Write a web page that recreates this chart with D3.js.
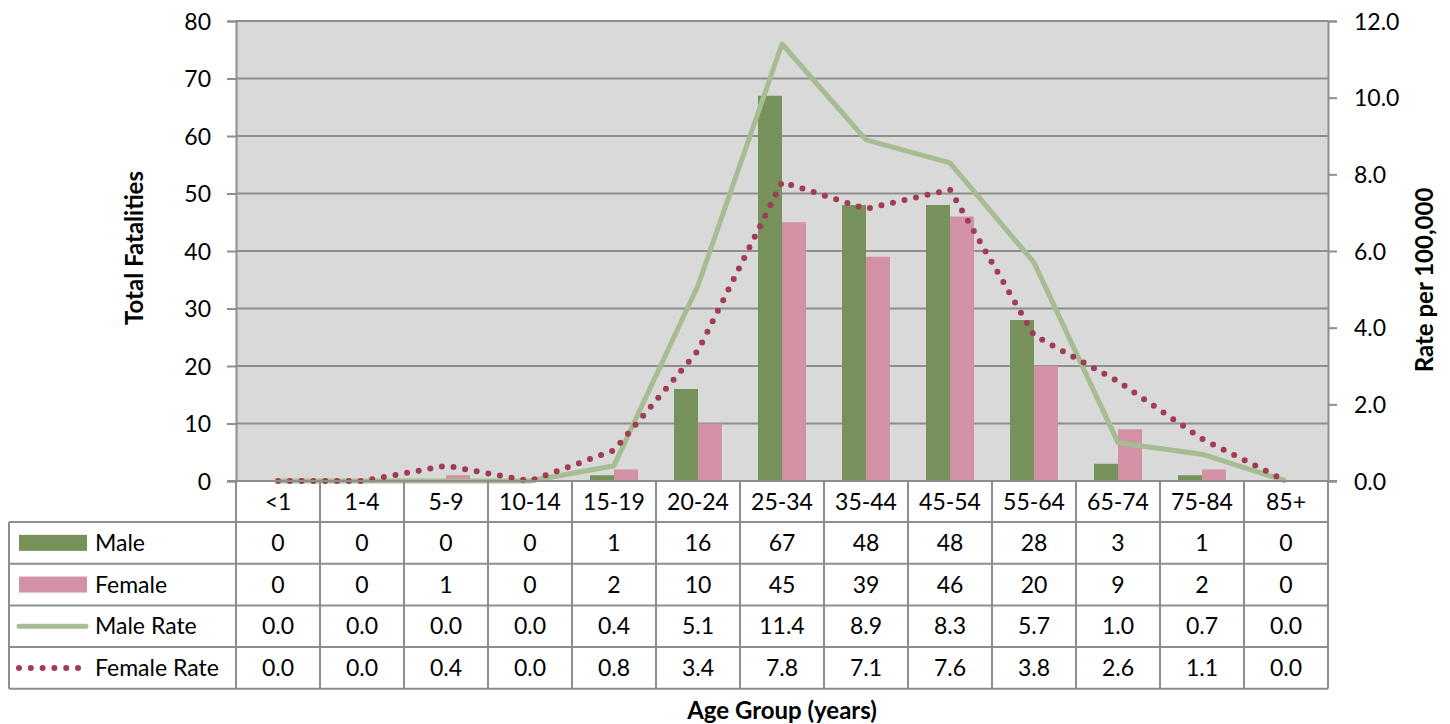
<!DOCTYPE html>
<html lang="en">
<head>
  <meta charset="UTF-8">
  <title>Fatalities by Age Group</title>
  <script src="https://d3js.org/d3.v7.min.js"></script>
  <style>
    body { margin: 0; background: #fff; }
    text { font-family: Lato, "Noto Sans", sans-serif; fill: #000; }
  </style>
</head>
<body>
<svg id="chart" width="1450" height="724"></svg>
<script>
  // data
  const ageGroups = ["<1", "1-4", "5-9", "10-14", "15-19", "20-24", "25-34", "35-44", "45-54", "55-64", "65-74", "75-84", "85+"]
  const male = [0, 0, 0, 0, 1, 16, 67, 48, 48, 28, 3, 1, 0]
  const female = [0, 0, 1, 0, 2, 10, 45, 39, 46, 20, 9, 2, 0]
  const maleRate = [0.0, 0.0, 0.0, 0.0, 0.4, 5.1, 11.4, 8.9, 8.3, 5.7, 1.0, 0.7, 0.0]
  const femaleRate = [0.0, 0.0, 0.4, 0.0, 0.8, 3.4, 7.8, 7.1, 7.6, 3.8, 2.6, 1.1, 0.0]
  const leftTicks = [0, 10, 20, 30, 40, 50, 60, 70, 80]
  const rightTicks = [0, 2, 4, 6, 8, 10, 12]

  const svg = d3.select("#chart")
  const plotL = 236, plotR = 1328, plotT = 21, plotB = 481
  const gridColor = "#8e8e8e"
  const maleColor = "#77915a", femaleColor = "#d291a5"
  const maleRateColor = "#a6bc92", femaleRateColor = "#a13c55"

  let x = d3.scaleBand().domain(ageGroups).range([plotL, plotR])
  let yL = d3.scaleLinear().domain([0, 80]).range([plotB, plotT])
  let yR = d3.scaleLinear().domain([0, 12]).range([plotB, plotT])
  let xSub = d3.scaleBand().domain(["m", "f"]).range([18, x.bandwidth() - 18])

  // plot background
  svg.append("rect").attr("x", plotL).attr("y", plotT)
    .attr("width", plotR - plotL).attr("height", plotB - plotT).attr("fill", "#d9d9d9")

  // gridlines
  svg.append("g").selectAll("line").data(leftTicks).enter().append("line")
    .attr("x1", plotL).attr("x2", plotR)
    .attr("y1", d => yL(d)).attr("y2", d => yL(d))
    .attr("stroke", gridColor).attr("stroke-width", 2)

  // left axis
  let yAxisL = d3.axisLeft(yL).tickValues(leftTicks).tickSize(9).tickPadding(16)
  let gL = svg.append("g").attr("transform", `translate(${plotL},0)`).call(yAxisL)
  gL.select(".domain").attr("stroke", gridColor).attr("stroke-width", 2)
  gL.selectAll(".tick line").attr("stroke", gridColor).attr("stroke-width", 2)
  gL.selectAll("text").style("font-size", "23px").attr("dy", "0.35em")

  // right axis
  let yAxisR = d3.axisRight(yR).tickValues(rightTicks).tickSize(9).tickPadding(17).tickFormat(d3.format(".1f"))
  let gR = svg.append("g").attr("transform", `translate(${plotR},0)`).call(yAxisR)
  gR.select(".domain").attr("stroke", gridColor).attr("stroke-width", 2)
  gR.selectAll(".tick line").attr("stroke", gridColor).attr("stroke-width", 2)
  gR.selectAll("text").style("font-size", "23px").attr("dy", "0.35em")

  // bars
  svg.append("g").selectAll("rect").data(male).enter().append("rect")
    .attr("x", (d, i) => x(ageGroups[i]) + xSub("m"))
    .attr("y", d => yL(d)).attr("width", xSub.bandwidth())
    .attr("height", d => plotB - yL(d)).attr("fill", maleColor)
  svg.append("g").selectAll("rect").data(female).enter().append("rect")
    .attr("x", (d, i) => x(ageGroups[i]) + xSub("f"))
    .attr("y", d => yL(d)).attr("width", xSub.bandwidth())
    .attr("height", d => plotB - yL(d)).attr("fill", femaleColor)

  // rate lines
  let line = d3.line().x((d, i) => x(ageGroups[i]) + x.bandwidth() / 2).y(d => yR(d))
  svg.append("path").datum(maleRate).attr("d", line)
    .attr("fill", "none").attr("stroke", maleRateColor).attr("stroke-width", 5)
    .attr("stroke-linejoin", "round")
  svg.append("path").datum(femaleRate).attr("d", line)
    .attr("fill", "none").attr("stroke", femaleRateColor).attr("stroke-width", 6)
    .attr("stroke-dasharray", "0 11.8").attr("stroke-linecap", "round")

  // bottom axis line drawn over the marks
  svg.append("line").attr("x1", plotL - 9).attr("x2", plotR + 9)
    .attr("y1", plotB).attr("y2", plotB).attr("stroke", gridColor).attr("stroke-width", 2)

  // data table
  const rowH = 41.7
  const tableLeft = 9
  const headerBottom = 522
  const rows = [
    {name: "Male", values: male, fmt: d3.format("d")},
    {name: "Female", values: female, fmt: d3.format("d")},
    {name: "Male Rate", values: maleRate, fmt: d3.format(".1f")},
    {name: "Female Rate", values: femaleRate, fmt: d3.format(".1f")}
  ]
  const tableBottom = headerBottom + rowH * rows.length

  let table = svg.append("g")
  // vertical lines
  let vx = ageGroups.map(d => x(d)).concat([plotR])
  table.selectAll(".vline").data(vx).enter().append("line")
    .attr("x1", d => d).attr("x2", d => d)
    .attr("y1", plotB).attr("y2", tableBottom)
    .attr("stroke", gridColor).attr("stroke-width", 2)
  table.append("line").attr("x1", tableLeft).attr("x2", tableLeft)
    .attr("y1", headerBottom).attr("y2", tableBottom)
    .attr("stroke", gridColor).attr("stroke-width", 2)
  // horizontal lines
  table.selectAll(".hline").data(d3.range(rows.length + 1)).enter().append("line")
    .attr("x1", tableLeft).attr("x2", plotR)
    .attr("y1", i => headerBottom + i * rowH).attr("y2", i => headerBottom + i * rowH)
    .attr("stroke", gridColor).attr("stroke-width", 2)

  // header labels
  table.selectAll(".cat").data(ageGroups).enter().append("text")
    .attr("x", d => x(d) + x.bandwidth() / 2).attr("y", (plotB + headerBottom) / 2)
    .attr("dy", "0.35em").attr("text-anchor", "middle").style("font-size", "23px")
    .text(d => d)

  rows.forEach((r, ri) => {
    let cy = headerBottom + ri * rowH + rowH / 2
    table.selectAll(".v" + ri).data(r.values).enter().append("text")
      .attr("x", (d, i) => x(ageGroups[i]) + x.bandwidth() / 2).attr("y", cy)
      .attr("dy", "0.35em").attr("text-anchor", "middle").style("font-size", "23px")
      .text(d => r.fmt(d))
    table.append("text").attr("x", 95).attr("y", cy).attr("dy", "0.35em")
      .style("font-size", "23px").text(r.name)
  })

  // legend keys
  let legendRowY = i => headerBottom + i * rowH + rowH / 2
  table.append("rect").attr("x", 19).attr("y", legendRowY(0) - 8).attr("width", 68).attr("height", 16).attr("fill", maleColor)
  table.append("rect").attr("x", 19).attr("y", legendRowY(1) - 8).attr("width", 68).attr("height", 16).attr("fill", femaleColor)
  table.append("line").attr("x1", 19).attr("x2", 86).attr("y1", legendRowY(2)).attr("y2", legendRowY(2))
    .attr("stroke", maleRateColor).attr("stroke-width", 5).attr("stroke-linecap", "round")
  table.append("line").attr("x1", 19).attr("x2", 80).attr("y1", legendRowY(3)).attr("y2", legendRowY(3))
    .attr("stroke", femaleRateColor).attr("stroke-width", 6)
    .attr("stroke-dasharray", "0 11.8").attr("stroke-linecap", "round")

  // axis titles
  svg.append("text").attr("transform", "translate(135,248) rotate(-90)")
    .attr("text-anchor", "middle").attr("dy", "0.35em")
    .style("font-size", "24px").style("font-weight", "bold")
    .text("Total Fatalities")
  svg.append("text").attr("transform", "translate(1425,280) rotate(-90)")
    .attr("text-anchor", "middle").attr("dy", "0.35em")
    .style("font-size", "24px").style("font-weight", "bold")
    .text("Rate per 100,000")
  svg.append("text").attr("x", 782).attr("y", 711).attr("dy", "0.35em")
    .attr("text-anchor", "middle").style("font-size", "24px").style("font-weight", "bold")
    .text("Age Group (years)")
</script>
</body>
</html>
